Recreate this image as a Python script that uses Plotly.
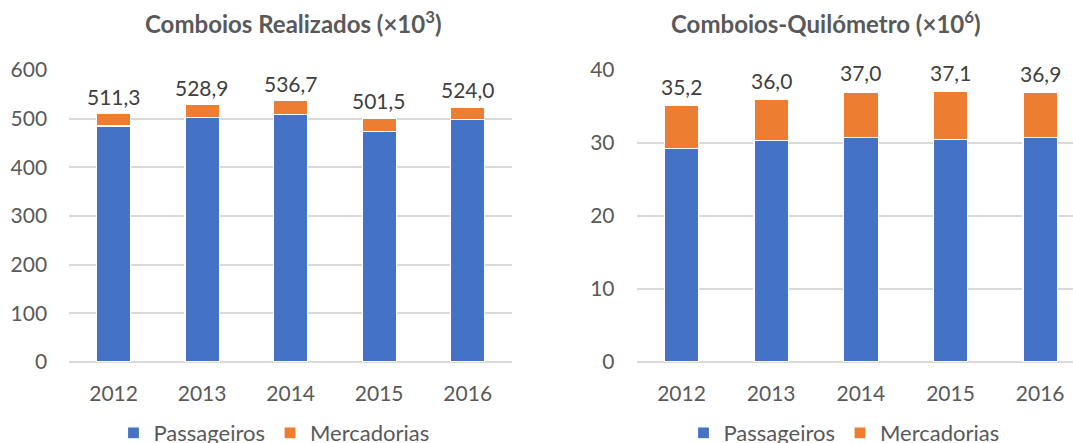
import plotly.graph_objects as go

years = ["2012", "2013", "2014", "2015", "2016"]

# Comboios Realizados (x10^3)
realizados_passageiros = [485.0, 503.0, 509.0, 474.0, 499.0]
realizados_mercadorias = [26.3, 25.9, 27.7, 27.5, 25.0]
realizados_totais = [511.3, 528.9, 536.7, 501.5, 524.0]

# Comboios-Quilómetro (x10^6)
km_passageiros = [29.2, 30.3, 30.7, 30.5, 30.8]
km_mercadorias = [6.0, 5.7, 6.3, 6.6, 6.1]
km_totais = [35.2, 36.0, 37.0, 37.1, 36.9]

title_left = "Comboios Realizados (×10<sup>3</sup>)"
title_right = "Comboios-Quilómetro (×10<sup>6</sup>)"
series_names = ["Passageiros", "Mercadorias"]

BLUE = "#4472C4"
ORANGE = "#ED7D31"
GRID = "#D9D9D9"
TXT = "#595959"
FONT = "Lato"

W, H = 1090, 443
TOP, BOT = 70, 81
PH = H - TOP - BOT


def fmt(v):
    return f"{v:.1f}".replace(".", ",")


fig = go.Figure()

for xa, ya, leg, pas, mer in [
    ("x", "y", "legend", realizados_passageiros, realizados_mercadorias),
    ("x2", "y2", "legend2", km_passageiros, km_mercadorias),
]:
    fig.add_trace(go.Bar(
        x=years, y=pas, name=series_names[0], xaxis=xa, yaxis=ya, legend=leg,
        marker=dict(color=BLUE, line=dict(color="white", width=1.2)),
    ))
    fig.add_trace(go.Bar(
        x=years, y=mer, name=series_names[1], xaxis=xa, yaxis=ya, legend=leg,
        marker=dict(color=ORANGE, line=dict(color="white", width=1.2)),
    ))

annotations = []
for xr, yr, tots, shift in [("x", "y", realizados_totais, 17), ("x2", "y2", km_totais, 19)]:
    for i, t in enumerate(tots):  # i = category index of years[i]
        annotations.append(dict(
            x=i, y=t, xref=xr, yref=yr, text=fmt(t), showarrow=False,
            yanchor="middle", yshift=shift,
            font=dict(family=FONT, size=21, color="#404040"),
        ))

title_y = (H - BOT - 22) / PH
annotations.append(dict(text="<b>" + title_left + "</b>", x=293 / W, y=title_y,
                        xref="paper", yref="paper", showarrow=False,
                        xanchor="center", yanchor="middle",
                        font=dict(family=FONT, size=24, color=TXT)))
annotations.append(dict(text="<b>" + title_right + "</b>", x=826 / W, y=title_y,
                        xref="paper", yref="paper", showarrow=False,
                        xanchor="center", yanchor="middle",
                        font=dict(family=FONT, size=24, color=TXT)))

axis_font = dict(family=FONT, size=21, color=TXT)
common_x = dict(type="category", range=[-0.5, len(years) - 0.5],
                showgrid=False, showline=False, zeroline=False,
                tickfont=axis_font, ticks="outside", ticklen=13,
                tickcolor="rgba(0,0,0,0)", automargin=False)
common_y = dict(showgrid=True, gridcolor=GRID, gridwidth=1.5, zeroline=True,
                zerolinecolor=GRID, zerolinewidth=1.5, showline=False,
                tickfont=axis_font, ticks="outside", ticklen=17,
                tickcolor="rgba(0,0,0,0)", automargin=False)

leg_y = -(BOT - 10) / PH
leg_font = dict(family=FONT, size=22, color=TXT)

fig.update_layout(
    template="none",
    width=W, height=H,
    margin=dict(l=0, r=0, t=TOP, b=BOT, autoexpand=False),
    paper_bgcolor="white", plot_bgcolor="white",
    barmode="stack", bargap=0.615,
    font=dict(family=FONT, color=TXT),
    xaxis=dict(domain=[69.3 / W, 512 / W], anchor="y", **common_x),
    yaxis=dict(range=[0, 600], dtick=100, anchor="x", **common_y),
    xaxis2=dict(domain=[636.7 / W, 1085 / W], anchor="y2", **common_x),
    yaxis2=dict(range=[0, 40], dtick=10, anchor="x2", **common_y),
    legend=dict(orientation="h", x=274 / W, y=leg_y, xanchor="center", yanchor="middle",
                font=leg_font, bgcolor="rgba(0,0,0,0)", traceorder="normal",
                itemwidth=30),
    legend2=dict(orientation="h", x=844 / W, y=leg_y, xanchor="center", yanchor="middle",
                 font=leg_font, bgcolor="rgba(0,0,0,0)", traceorder="normal",
                 itemwidth=30),
    annotations=annotations,
    showlegend=True,
)

fig.write_html(
    "out.html",
    config={"displayModeBar": False},
    post_script="document.body.style.margin='0';document.body.style.overflow='hidden';",
)
